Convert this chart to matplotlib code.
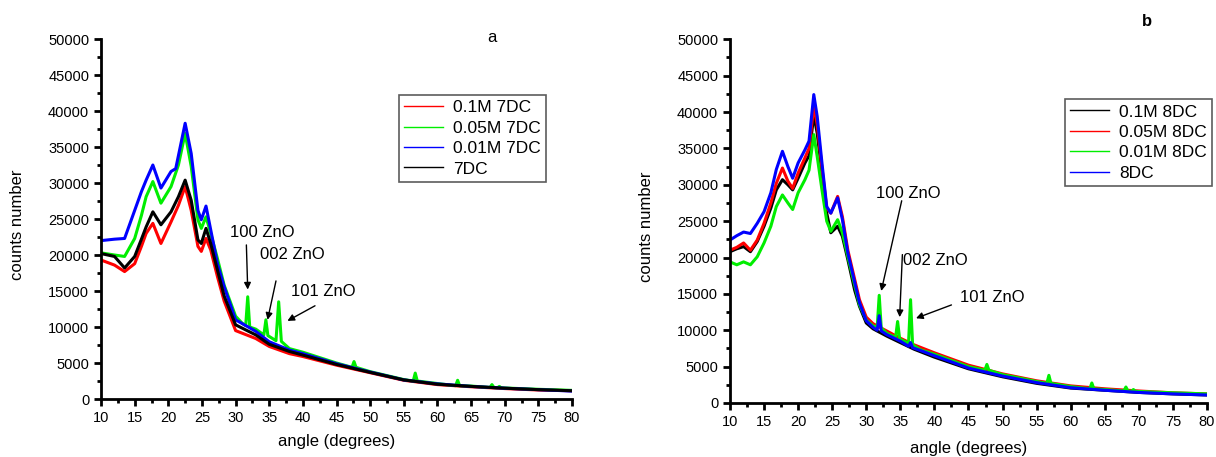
import matplotlib
matplotlib.use("Agg")
import matplotlib.pyplot as plt
from matplotlib.lines import Line2D
from matplotlib.ticker import MultipleLocator

plt.rcParams["font.family"] = ["Liberation Sans", "DejaVu Sans"]

# ---- panel a : 7DC series ----
a_angle = [10, 12, 13.5, 15, 16, 16.7, 17.7, 18.9, 20.4, 21.5, 22.5, 23.4, 24.4, 24.9, 25.6, 26.3,
           27.3, 28.3, 30, 33, 35, 38, 40, 45, 50, 55, 60, 65, 70, 75, 80]
a_red = [19300, 18600, 17700, 18800, 21200, 23000, 24400, 21600, 24600, 26900, 29500, 26200, 21200,
         20500, 22300, 20700, 17000, 13600, 9500, 8400, 7300, 6300, 5900, 4700, 3650, 2600, 2000,
         1700, 1450, 1250, 1150]
a_black = [20200, 19800, 18200, 19800, 22200, 23900, 26000, 24200, 26000, 28100, 30400, 27600, 22100,
           21600, 23700, 21600, 17900, 14300, 10300, 8900, 7600, 6600, 6100, 4800, 3700, 2650, 2050,
           1750, 1500, 1300, 1150]
a_blue_angle = [10, 12, 13.5, 15, 16, 16.7, 17.7, 18.9, 20.4, 21.1, 22.5, 23.4, 24.4, 24.9, 25.6, 26.3,
                27.3, 28.3, 30, 33, 35, 38, 40, 45, 50, 55, 60, 65, 70, 75, 80]
a_blue = [22000, 22200, 22300, 26200, 28800, 30400, 32500, 29300, 31600, 32000, 38300, 34100, 26200,
          24900, 26800, 23500, 18800, 15600, 11000, 9400, 7950, 6800, 6300, 4900, 3750, 2650, 2100,
          1750, 1500, 1300, 1100]
a_green_angle = [10, 12, 13.5, 15, 16, 16.7, 17.7, 18.9, 20.4, 21.5, 22.5, 23.4, 24.4, 24.9, 25.6, 26.3,
                 27.3, 28.3, 30, 31, 31.5, 31.8, 32.1, 33, 34.2, 34.5, 34.8, 36.0, 36.4, 36.8, 38, 40,
                 45, 47.3, 47.6, 47.9, 50, 55, 56.4, 56.7, 57.0, 60, 62.7, 63.0, 63.3, 65, 67.8, 68.1,
                 68.4, 68.9, 69.2, 69.5, 75, 80]
a_green = [20300, 20000, 19800, 22300, 25500, 28100, 30200, 27200, 29500, 32500, 36900, 32300, 24900,
           23700, 25300, 23000, 19500, 15800, 11500, 10500, 10200, 14200, 10000, 9700, 8900, 11000,
           8800, 8100, 13500, 8000, 7000, 6500, 5000, 4400, 5200, 4400, 3800, 2700, 2500, 3600, 2500,
           2150, 1850, 2600, 1850, 1800, 1600, 2000, 1600, 1550, 1750, 1550, 1350, 1200]

# ---- panel b : 8DC series ----
b_angle = [10, 11, 12, 13, 14, 15, 16, 16.8, 17.7, 18.5, 19.2, 20, 21, 21.6, 22.3, 22.8, 23.5, 24.2,
           24.8, 25.8, 26.5, 27.3, 28.3, 29, 30, 31, 33, 35, 37, 40, 45, 50, 55, 60, 65, 70, 75, 80]
b_black = [20800, 21200, 21500, 20800, 22200, 24300, 26800, 29300, 30700, 30000, 29300, 30900, 33000,
           34000, 39600, 37100, 31600, 26100, 23400, 24300, 22900, 19700, 15500, 13300, 11000, 10200,
           9200, 8300, 7400, 6300, 4700, 3600, 2700, 2050, 1750, 1450, 1250, 1100]
b_red = [21000, 21400, 22000, 21000, 22400, 24700, 27500, 30200, 32300, 30500, 29500, 31600, 33700,
         35000, 40800, 38300, 32300, 26800, 26100, 28400, 25600, 21000, 17000, 14200, 11800, 10900,
         9900, 8900, 8000, 6900, 5200, 4000, 3050, 2350, 1950, 1650, 1400, 1250]
b_blue_angle = [10, 11, 12, 13, 14, 15, 16, 16.8, 17.7, 18.5, 19.2, 20, 21, 21.6, 22.3, 22.8, 23.5,
                24.2, 24.8, 25.8, 26.5, 27.3, 28.3, 29, 30, 31, 31.6, 31.9, 32.2, 33, 35, 36.2, 36.5,
                36.8, 38, 40, 45, 50, 55, 60, 65, 70, 75, 80]
b_blue = [22400, 23000, 23500, 23300, 24700, 26300, 28900, 32100, 34600, 32500, 30900, 33000, 34800,
          36000, 42400, 39400, 33000, 27000, 26100, 28200, 25200, 20600, 16600, 13800, 11300, 10400,
          10000, 12000, 9900, 9400, 8500, 7800, 8300, 7600, 7200, 6500, 4800, 3700, 2800, 2100, 1750,
          1450, 1250, 1100]
b_green_angle = [10, 11, 12, 13, 14, 15, 16, 16.8, 17.7, 18.5, 19.2, 20, 21, 21.6, 22.3, 22.8, 23.5,
                 24.2, 24.8, 25.8, 26.5, 27.3, 28.3, 29, 30, 31, 31.6, 31.9, 32.2, 33, 34.3, 34.6,
                 34.9, 36.2, 36.5, 36.8, 38, 40, 45, 47.4, 47.7, 48.0, 50, 55, 56.5, 56.8, 57.1, 60,
                 62.8, 63.1, 63.4, 65, 67.8, 68.1, 68.4, 68.9, 69.2, 69.5, 75, 80]
b_green = [19400, 19000, 19400, 19000, 20100, 22000, 24300, 27000, 28600, 27500, 26600, 28900, 30700,
           32000, 36900, 33900, 29300, 25000, 23600, 25200, 23400, 20100, 16200, 13500, 11400, 10600,
           10400, 14800, 10300, 9600, 9000, 11200, 8800, 8200, 14200, 8000, 7300, 6700, 5000, 4500,
           5300, 4500, 3900, 2950, 2700, 3800, 2700, 2250, 1950, 2750, 1950, 1850, 1650, 2200, 1650,
           1600, 1850, 1600, 1400, 1250]

# peak labels: text, text position (left, centre), arrow tail, arrow tip
a_notes = [("100 ZnO", (29.2, 23100), (31.6, 21400), (31.8, 15200)),
           ("002 ZnO", (33.6, 20100), (36.0, 16400), (34.75, 11000)),
           ("101 ZnO", (38.2, 14900), (41.8, 12950), (37.7, 10850))]
b_notes = [("100 ZnO", (31.5, 28800), (35.2, 27800), (32.2, 15400)),
           ("002 ZnO", (35.4, 19650), (35.3, 20400), (34.9, 11800)),
           ("101 ZnO", (43.75, 14540), (42.5, 13480), (37.3, 11650))]


def style_axes(ax):
    ax.set_xlim(10, 80)
    ax.set_ylim(0, 50000)
    ax.spines["top"].set_visible(False)
    ax.spines["right"].set_visible(False)
    ax.spines["left"].set_linewidth(2)
    ax.spines["bottom"].set_linewidth(2)
    ax.xaxis.set_major_locator(MultipleLocator(5))
    ax.xaxis.set_minor_locator(MultipleLocator(2.5))
    ax.yaxis.set_major_locator(MultipleLocator(5000))
    ax.yaxis.set_minor_locator(MultipleLocator(2500))
    ax.tick_params(which="major", direction="out", length=5, width=2, labelsize=10.5)
    ax.tick_params(which="minor", direction="out", length=3, width=2)
    ax.set_xlabel("angle (degrees)", fontsize=12)
    ax.set_ylabel("counts number", fontsize=12)


def add_notes(ax, notes):
    for text, pos, tail, tip in notes:
        ax.text(pos[0], pos[1], text, fontsize=12, ha="left", va="center")
        ax.annotate("", xy=tip, xytext=tail,
                    arrowprops=dict(arrowstyle="-|>", color="black", lw=1,
                                    mutation_scale=10, shrinkA=0, shrinkB=0))


def add_legend(ax, fig, colors, labels, anchor):
    handles = [Line2D([], [], color=c, lw=1) for c in colors]
    leg = ax.legend(handles, labels, loc="upper left", bbox_to_anchor=anchor,
                    bbox_transform=fig.transFigure, fontsize=12.5, frameon=True,
                    fancybox=False, edgecolor="#333333", handlelength=2.25,
                    handletextpad=0.55, labelspacing=0.3, borderpad=0.3,
                    borderaxespad=0)
    leg.get_frame().set_linewidth(1.2)


fig = plt.figure(figsize=(12.16, 4.57), dpi=100)
ax_a = fig.add_axes([0.0831, 0.1269, 0.3873, 0.7877])
ax_b = fig.add_axes([0.6003, 0.1182, 0.3923, 0.7958])

lw = 2.2
ax_a.plot(a_angle, a_red, color="#ff0000", lw=lw)
ax_a.plot(a_green_angle, a_green, color="#00ee00", lw=lw)
ax_a.plot(a_blue_angle, a_blue, color="#0000ff", lw=lw)
ax_a.plot(a_angle, a_black, color="black", lw=lw)
style_axes(ax_a)
ax_a.yaxis.set_label_coords(-0.161, 0.483)
ax_a.xaxis.set_label_coords(0.5, -0.097)
add_notes(ax_a, a_notes)
add_legend(ax_a, fig, ["#ff0000", "#00ee00", "#0000ff", "black"],
           ["0.1M 7DC", "0.05M 7DC", "0.01M 7DC", "7DC"], (0.328, 0.792))

ax_b.plot(b_angle, b_black, color="black", lw=lw)
ax_b.plot(b_angle, b_red, color="#ff0000", lw=lw)
ax_b.plot(b_green_angle, b_green, color="#00ee00", lw=lw)
ax_b.plot(b_blue_angle, b_blue, color="#0000ff", lw=lw)
style_axes(ax_b)
ax_b.yaxis.set_label_coords(-0.159, 0.485)
ax_b.xaxis.set_label_coords(0.5, -0.104)
add_notes(ax_b, b_notes)
add_legend(ax_b, fig, ["black", "#ff0000", "#00ee00", "#0000ff"],
           ["0.1M 8DC", "0.05M 8DC", "0.01M 8DC", "8DC"], (0.876, 0.783))

fig.text(492 / 1216, 1 - 37 / 457, "a", fontsize=12, ha="center", va="center")
fig.text(1147 / 1216, 1 - 22 / 457, "b", fontsize=12, fontweight="bold", ha="center", va="center")

fig.savefig("out.png", dpi=100)
